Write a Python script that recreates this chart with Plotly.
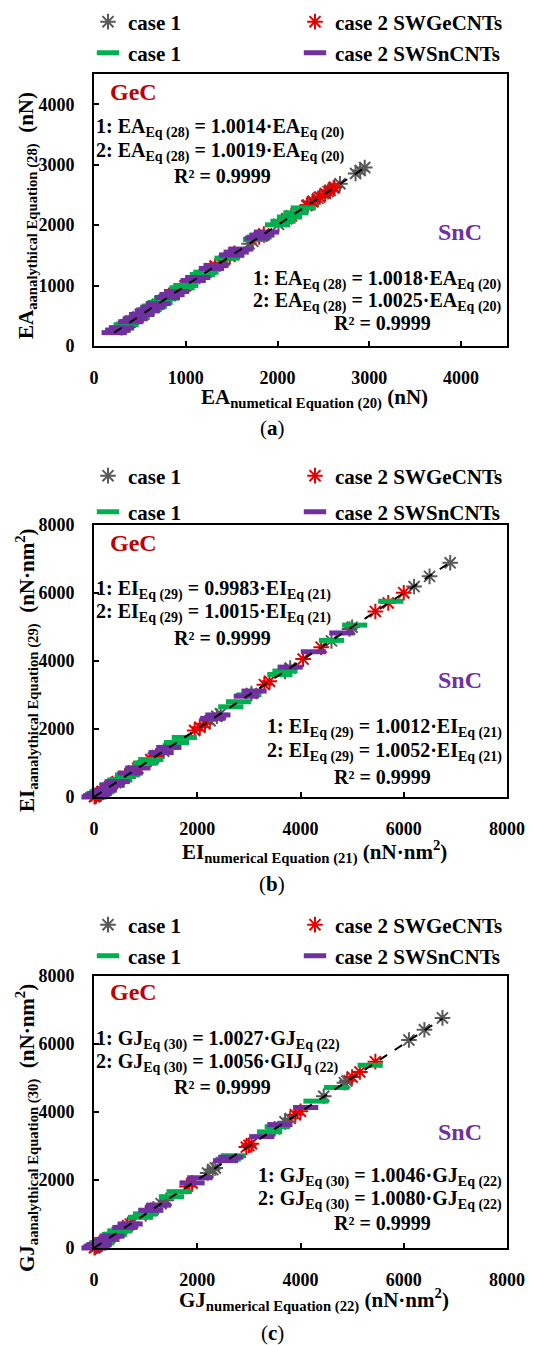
import plotly.graph_objects as go

# The page body has an 8 px margin, so the figure is drawn 8 px in from the
# window's top-left corner; size it to fill the rest of the 534x1345 window.
OFF = 8
W, H = 534 - OFF, 1345 - OFF

# ---------------- data ----------------
# Panel (a): axial stiffness EA (nN)
a_gec1_x = [320, 350, 400, 540, 600, 690, 760, 830, 900, 990, 1150, 1220, 1380, 1420, 1690, 1730, 2010, 2330, 2390, 2440, 2550, 2610, 2680, 2850, 2900, 2950]
a_gec1_y = [321, 351, 401, 541, 601, 691, 761, 831, 901, 991, 1152, 1222, 1382, 1422, 1692, 1732, 2013, 2333, 2393, 2443, 2554, 2614, 2684, 2854, 2904, 2954]
a_gec2_x = [300, 340, 390, 480, 520, 640, 720, 780, 870, 1000, 1060, 1270, 1320, 1480, 1530, 1800, 1850, 2100, 2150, 2320, 2380, 2460, 2520, 2570, 2620]
a_gec2_y = [301, 341, 391, 481, 521, 641, 721, 781, 872, 1002, 1062, 1272, 1323, 1483, 1533, 1803, 1854, 2104, 2154, 2324, 2385, 2465, 2525, 2575, 2625]
a_snc1_x = [260, 300, 350, 470, 520, 600, 660, 720, 790, 960, 1000, 1180, 1220, 1450, 1500, 1760, 1800, 2000, 2060, 2130, 2200, 2280]
a_snc1_y = [261, 301, 351, 471, 521, 601, 661, 721, 791, 962, 1002, 1182, 1222, 1453, 1503, 1763, 1803, 2004, 2064, 2134, 2204, 2284]
a_snc2_x = [220, 260, 300, 400, 450, 520, 580, 640, 700, 800, 850, 900, 1080, 1130, 1280, 1330, 1500, 1550, 1600, 1780, 1830, 1880]
a_snc2_y = [221, 261, 301, 401, 451, 521, 581, 642, 702, 802, 852, 902, 1083, 1133, 1283, 1333, 1504, 1554, 1604, 1784, 1835, 1885]

# Panel (b): bending stiffness EI (nN.nm^2)
b_gec1_x = [30, 80, 150, 250, 420, 700, 760, 1150, 1220, 1350, 2250, 2380, 2450, 3050, 3700, 3800, 4600, 4950, 5000, 6200, 6500, 6900]
b_gec1_y = [30, 80, 150, 250, 419, 699, 759, 1148, 1218, 1348, 2246, 2376, 2446, 3045, 3694, 3794, 4592, 4942, 4992, 6189, 6489, 6888]
b_gec2_x = [10, 40, 90, 160, 300, 450, 600, 850, 1100, 1200, 1950, 2050, 2150, 3300, 3400, 4050, 4400, 5450, 5700, 6000]
b_gec2_y = [10, 40, 90, 160, 300, 451, 601, 851, 1102, 1202, 1953, 2053, 2153, 3305, 3405, 4056, 4407, 5458, 5709, 6009]
b_snc1_x = [30, 70, 150, 350, 500, 650, 1000, 1100, 1600, 1750, 2650, 2800, 3000, 3600, 3700, 4600, 5050, 5750]
b_snc1_y = [30, 70, 150, 350, 501, 651, 1001, 1101, 1602, 1752, 2653, 2803, 3004, 3604, 3704, 4606, 5056, 5757]
b_snc2_x = [0, 40, 100, 200, 350, 450, 700, 850, 1300, 1450, 2300, 2400, 2950, 3100, 3800, 4250, 4800]
b_snc2_y = [0, 40, 100, 201, 352, 452, 704, 854, 1307, 1458, 2312, 2412, 2965, 3116, 3820, 4272, 4825]

# Panel (c): torsional stiffness GJ (nN.nm^2)
c_gec1_x = [20, 60, 120, 250, 450, 700, 750, 1150, 1300, 1400, 2200, 2300, 2350, 3500, 3700, 3800, 4450, 4850, 4900, 6100, 6400, 6750]
c_gec1_y = [20, 60, 120, 251, 451, 702, 752, 1153, 1304, 1404, 2206, 2306, 2356, 3509, 3710, 3810, 4462, 4863, 4913, 6116, 6417, 6768]
c_gec2_x = [10, 50, 100, 200, 300, 500, 650, 1000, 1100, 1800, 1900, 2950, 3000, 3050, 3900, 4000, 5000, 5150, 5450]
c_gec2_y = [10, 50, 101, 201, 302, 503, 654, 1006, 1106, 1810, 1911, 2967, 3017, 3067, 3922, 4022, 5028, 5179, 5481]
c_snc1_x = [30, 80, 150, 400, 500, 900, 1000, 1500, 1650, 2600, 2700, 3400, 3550, 4300, 4700, 5350]
c_snc1_y = [30, 80, 151, 402, 502, 904, 1005, 1507, 1658, 2612, 2712, 3416, 3566, 4320, 4722, 5375]
c_snc2_x = [0, 50, 100, 250, 350, 600, 700, 1100, 1250, 1900, 2050, 2550, 2650, 3250, 3600, 4100]
c_snc2_y = [0, 50, 101, 252, 353, 605, 706, 1109, 1260, 1915, 2066, 2570, 2671, 3276, 3629, 4133]

series_names = ["case 1", "case 2 SWGeCNTs", "case 1", "case 2 SWSnCNTs"]

panels = [
    dict(data=[(a_gec1_x, a_gec1_y), (a_gec2_x, a_gec2_y), (a_snc1_x, a_snc1_y), (a_snc2_x, a_snc2_y)],
         rng=[0, 4500], dtick=1000),
    dict(data=[(b_gec1_x, b_gec1_y), (b_gec2_x, b_gec2_y), (b_snc1_x, b_snc1_y), (b_snc2_x, b_snc2_y)],
         rng=[0, 8000], dtick=2000),
    dict(data=[(c_gec1_x, c_gec1_y), (c_gec2_x, c_gec2_y), (c_snc1_x, c_snc1_y), (c_snc2_x, c_snc2_y)],
         rng=[0, 8000], dtick=2000),
]

# ---------------- styles ----------------
FONT = "Liberation Serif"
GRAY = "#595959"
RED = "#E60000"
GREEN = "#00B050"
PURPLE = "#7030A0"
GEC_RED = "#C00000"

marker_styles = [
    dict(symbol="asterisk-open", size=13, color=GRAY, line=dict(color=GRAY, width=2)),
    dict(symbol="asterisk-open", size=13, color=RED, line=dict(color=RED, width=2)),
    dict(symbol="line-ew-open", size=18, color=GREEN, line=dict(color=GREEN, width=5)),
    dict(symbol="line-ew-open", size=18, color=PURPLE, line=dict(color=PURPLE, width=5)),
]

# helpers: window pixel -> paper fraction
def px(x):
    return (x - OFF) / W

def py(y):
    return 1 - (y - OFF) / H

# plot-area boxes in window pixels (left, right, top, bottom)
boxes = [(94, 507, 74, 346), (94, 507, 525, 797), (94, 507, 976, 1248)]
legend_rows = [(22, 53), (476, 512), (925, 956)]

fig = go.Figure()

for i, p in enumerate(panels):
    ax = "" if i == 0 else str(i + 1)
    lg_row1 = "legend" if i == 0 else "legend" + str(2 * i + 1)
    lg_row2 = "legend" + str(2 * i + 2)
    for j, (xs, ys) in enumerate(p["data"]):
        fig.add_trace(go.Scatter(
            x=xs, y=ys, mode="markers", name=series_names[j],
            marker=marker_styles[j], cliponaxis=False,
            xaxis="x" + ax, yaxis="y" + ax,
            legend=lg_row1 if j < 2 else lg_row2,
        ))
    allx = [v for xs, _ in p["data"] for v in xs]
    lo, hi = min(allx), max(allx)
    fig.add_trace(go.Scatter(
        x=[lo, hi], y=[lo, hi], mode="lines", showlegend=False,
        line=dict(color="black", width=2, dash="dash"),
        xaxis="x" + ax, yaxis="y" + ax, hoverinfo="skip",
    ))

layout = dict(
    width=W, height=H, margin=dict(l=0, r=0, t=0, b=0, autoexpand=False),
    paper_bgcolor="white", plot_bgcolor="white",
    font=dict(family=FONT, size=18, color="black", weight="bold"),
    showlegend=True,
)

for i, p in enumerate(panels):
    l, r, t, b = boxes[i]
    ax = "" if i == 0 else str(i + 1)
    common = dict(
        range=p["rng"], dtick=p["dtick"], showline=True, linecolor="black", linewidth=2,
        mirror=True, ticks="inside", ticklen=5, tickwidth=2, tickcolor="black",
        showgrid=False, zeroline=False, ticklabelstandoff=14, automargin=False,
        tickfont=dict(family=FONT, size=18, color="black", weight="bold"),
    )
    layout["xaxis" + ax] = dict(domain=[px(l), px(r)], anchor="y" + ax, **common)
    layout["yaxis" + ax] = dict(domain=[py(b), py(t)], anchor="x" + ax, **common)
    for k, ry in enumerate(legend_rows[i]):
        name = "legend" if (i == 0 and k == 0) else "legend" + str(2 * i + k + 1)
        layout[name] = dict(
            orientation="h", x=px(88), y=py(ry), xanchor="left", yanchor="middle",
            xref="paper", yref="paper", entrywidth=162, bgcolor="rgba(0,0,0,0)",
            font=dict(family=FONT, size=21, color="black", weight="bold"),
            itemsizing="trace",
        )

fig.update_layout(**layout)

# ---------------- annotations ----------------
def ann(text, x, y, size=20, color="black", xanchor="left", angle=0, weight="bold"):
    fig.add_annotation(text=text, x=px(x), y=py(y), xref="paper", yref="paper",
                       showarrow=False, xanchor=xanchor, yanchor="middle", textangle=angle,
                       font=dict(family=FONT, size=size, color=color, weight=weight))

sym = ["EA", "EI", "GJ"]
eq_l = [("28", "20"), ("29", "21"), ("30", "22")]
gec_slopes = [("1.0014", "1.0019"), ("0.9983", "1.0015"), ("1.0027", "1.0056")]
snc_slopes = [("1.0018", "1.0025"), ("1.0012", "1.0052"), ("1.0046", "1.0080")]
units = ["(nN)", "(nN·nm<sup>2</sup>)", "(nN·nm<sup>2</sup>)"]
xsub = ["numetical Equation (20)", "numerical Equation (21)", "numerical Equation (22)"]
ysub = ["aanalythical Equation (28)", "aanalythical Equation (29)", "aanalythical Equation (30)"]
captions = ["a", "b", "c"]

gec_pos = [(92, 128, 152, 176), (543, 590, 613, 638), (992, 1040, 1063, 1087)]
snc_pos = [(232, 280, 302, 323), (680, 728, 752, 777), (1132, 1177, 1200, 1223)]
xtitle_y = [398, 852, 1300]
cap_y = [428, 884, 1333]
ytitle_c = [216, 670, 1128]

for i in range(3):
    s = sym[i]
    e1, e2 = eq_l[i]
    g = gec_pos[i]
    ann("GeC", 108, g[0], size=24, color=GEC_RED)
    ann(f"1: {s}<sub>Eq ({e1})</sub> = {gec_slopes[i][0]}·{s}<sub>Eq ({e2})</sub>", 94, g[1])
    if i == 2:
        ann(f"2: {s}<sub>Eq ({e1})</sub> = {gec_slopes[i][1]}·GIJ<sub>q ({e2})</sub>", 94, g[2])
    else:
        ann(f"2: {s}<sub>Eq ({e1})</sub> = {gec_slopes[i][1]}·{s}<sub>Eq ({e2})</sub>", 94, g[2])
    ann("R² = 0.9999", 222, g[3], xanchor="center")
    sp = snc_pos[i]
    ann("SnC", 484, sp[0], size=24, color=PURPLE, xanchor="right")
    ann(f"1: {s}<sub>Eq ({e1})</sub> = {snc_slopes[i][0]}·{s}<sub>Eq ({e2})</sub>", 504, sp[1], xanchor="right")
    ann(f"2: {s}<sub>Eq ({e1})</sub> = {snc_slopes[i][1]}·{s}<sub>Eq ({e2})</sub>", 504, sp[2], xanchor="right")
    ann("R² = 0.9999", 382, sp[3], xanchor="center")
    ann(f"{s}<sub>{xsub[i]}</sub> {units[i]}", 314, xtitle_y[i], size=21, xanchor="center")
    ann(f"{s}<sub>{ysub[i]}</sub>  {units[i]}", 27, ytitle_c[i], size=21, xanchor="center", angle=-90)
    ann(f"(<b>{captions[i]}</b>)", 272, cap_y[i], size=21, xanchor="center", weight="normal")

fig.write_html("out.html")
